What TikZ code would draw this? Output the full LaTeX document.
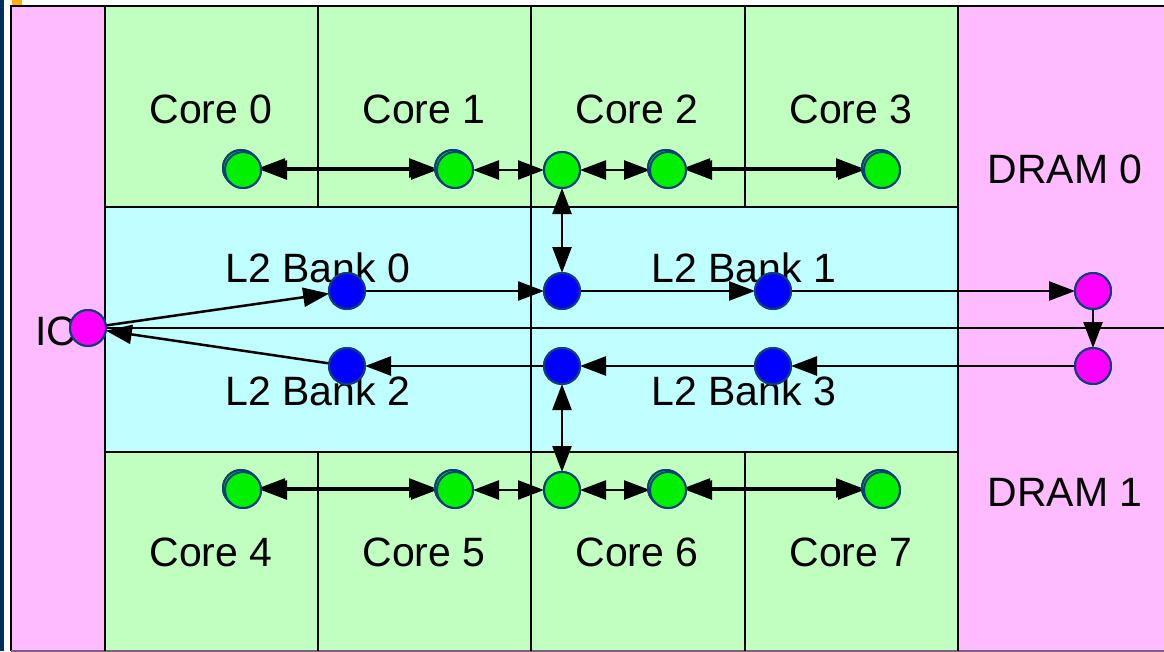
\documentclass[tikz,border=0pt]{standalone}
\usepackage{fontspec}
\setmainfont{Liberation Sans}
\usetikzlibrary{arrows.meta}
\definecolor{corefill}{HTML}{C0FFC0}
\definecolor{lfill}{HTML}{C0FFFF}
\definecolor{memfill}{HTML}{FFBBFF}
\definecolor{rim}{HTML}{0D3F7A}
\definecolor{dotgreen}{HTML}{00F000}
\definecolor{dotblue}{HTML}{0000FF}
\definecolor{dotpink}{HTML}{FF00FF}
\definecolor{sidebar}{HTML}{003060}
\definecolor{tab}{HTML}{FFB000}
\begin{document}
\begin{tikzpicture}[x=1pt,y=-1pt,
  gridline/.style={line width=2.5pt,black},
  label/.style={inner sep=0pt,anchor=base,font=\fontsize{41}{49}\selectfont},
  dot/.style={circle,draw=rim,line width=2pt,minimum size=36pt,inner sep=0pt},
  gdot/.style={dot,fill=dotgreen},
  bdot/.style={dot,fill=dotblue},
  pdot/.style={dot,fill=dotpink},
  tip/.style={-{Triangle[length=26pt,width=19pt]}},
  both/.style={{Triangle[length=26pt,width=19pt]}-{Triangle[length=26pt,width=19pt]}},
  link/.style={line width=2.5pt,black,shorten <=-1pt,shorten >=-1pt}]
\useasboundingbox (0,0) rectangle (1164,651);
% side strip and tab
\fill[sidebar] (0,0) rectangle (4,651);
\fill[tab] (12,0) rectangle (22,5);
% regions
\fill[memfill] (11,6) rectangle (105,651);
\fill[memfill] (958,6) rectangle (1164,651);
\fill[corefill] (105,6) rectangle (958,207);
\fill[lfill] (105,207) rectangle (958,452);
\fill[corefill] (105,452) rectangle (958,651);
% outline and cell borders
\draw[line width=1.8pt] (11,651) -- (11,6) -- (1164,6);
\draw[line width=1.5pt,black!50!memfill] (11,651) -- (1164,651);
\draw[gridline] (105,6) -- (105,651);
\draw[gridline] (958,6) -- (958,651);
\draw[gridline] (105,207) -- (958,207);
\draw[gridline] (105,452) -- (958,452);
\draw[gridline] (105,328) -- (1164,328);
\draw[gridline] (318,6) -- (318,207);
\draw[gridline] (531,6) -- (531,651);
\draw[gridline] (745,6) -- (745,207);
\draw[gridline] (318,452) -- (318,651);
\draw[gridline] (745,452) -- (745,651);
% labels
\node[label] (t0) at (211,123) {Core 0};
\node[label] (t1) at (424,123) {Core 1};
\node[label] (t2) at (637,123) {Core 2};
\node[label] (t3) at (851,123) {Core 3};
\node[label] (t4) at (211,566) {Core 4};
\node[label] (t5) at (424,566) {Core 5};
\node[label] (t6) at (637,566) {Core 6};
\node[label] (t7) at (851,566) {Core 7};
\node[label] (tb0) at (318,282) {L2 Bank 0};
\node[label] (tb1) at (744,282) {L2 Bank 1};
\node[label] (tb2) at (318,405) {L2 Bank 2};
\node[label] (tb3) at (744,405) {L2 Bank 3};
\node[label] (td0) at (1065,183) {DRAM 0};
\node[label] (td1) at (1065,506) {DRAM 1};
\node[label,anchor=base west] (tic) at (35,345) {IC};
% routers: cores (some drawn doubled)
\foreach \n/\x in {0/243,1/455,3/668,4/882}{
  \node[gdot] (ub\n) at (\x-2,168) {};
  \node[gdot] (lb\n) at (\x-2,488) {};
}
\node[gdot] (u0) at (243,170) {};
\node[gdot] (u1) at (455,170) {};
\node[gdot] (u2) at (562,170) {};
\node[gdot] (u3) at (668,170) {};
\node[gdot] (u4) at (882,170) {};
\node[gdot] (l0) at (243,490) {};
\node[gdot] (l1) at (455,490) {};
\node[gdot] (l2) at (562,490) {};
\node[gdot] (l3) at (668,490) {};
\node[gdot] (l4) at (882,490) {};
% routers: L2 banks, memory and IC
\node[bdot] (b0) at (347,291) {};
\node[bdot] (bm) at (562,291) {};
\node[bdot] (b1) at (773,291) {};
\node[bdot] (b2) at (347,366) {};
\node[bdot] (bn) at (562,366) {};
\node[bdot] (b3) at (773,366) {};
\node[pdot] (m0) at (1093,291) {};
\node[pdot] (m1) at (1093,366) {};
\node[pdot] (ic) at (88,328) {};
% core ring links
\draw[link,both] (ub0) -- (ub1);
\draw[link,both] (u0) -- (u1);
\draw[link,both] (u1) -- (u2);
\draw[link,both] (u2) -- (u3);
\draw[link,both] (ub3) -- (ub4);
\draw[link,both] (u3) -- (u4);
\draw[link,both] (lb0) -- (lb1);
\draw[link,both] (l0) -- (l1);
\draw[link,both] (l1) -- (l2);
\draw[link,both] (l2) -- (l3);
\draw[link,both] (lb3) -- (lb4);
\draw[link,both] (l3) -- (l4);
\draw[link,both] (u2) -- (bm);
\draw[link,both] (l2) -- (bn);
% L2 and memory path
\draw[link,tip] (ic) -- (b0);
\draw[link,tip] (b0) -- (bm);
\draw[link,tip] (bm) -- (b1);
\draw[link,tip] (b1) -- (m0);
\draw[link,tip] (m0) -- (m1);
\draw[link,tip] (m1) -- (b3);
\draw[link,tip] (b3) -- (bn);
\draw[link,tip] (bn) -- (b2);
\draw[link,tip] (b2) -- (ic);
% redraw router discs above the links
\foreach \n in {ub0,ub1,ub3,ub4,lb0,lb1,lb3,lb4}{\node[gdot] at (\n) {};}
\foreach \n in {u0,u1,u2,u3,u4,l0,l1,l2,l3,l4}{\node[gdot] at (\n) {};}
\foreach \n in {b0,bm,b1,b2,bn,b3}{\node[bdot] at (\n) {};}
\foreach \n in {m0,m1,ic}{\node[pdot] at (\n) {};}
\end{tikzpicture}
\end{document}
